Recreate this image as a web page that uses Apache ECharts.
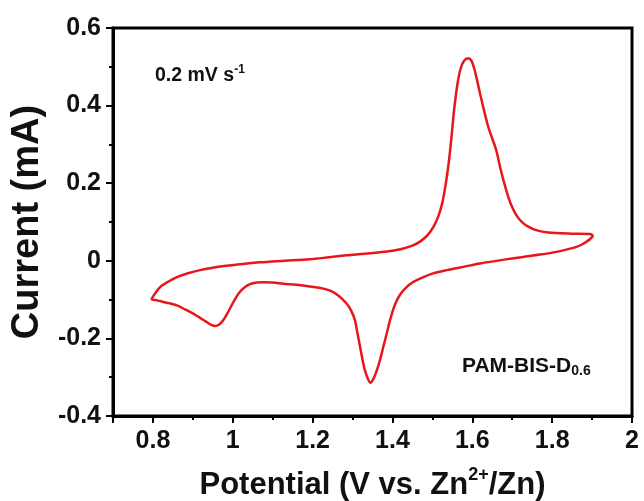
<!DOCTYPE html>
<html>
<head>
<meta charset="utf-8">
<script src="https://cdn.jsdelivr.net/npm/echarts@6/dist/echarts.min.js"></script>
<style>
  html, body { margin: 0; padding: 0; background: #ffffff; }
  #chart { width: 644px; height: 501px; }
</style>
</head>
<body>
<div id="chart"></div>
<script>
// Cyclic voltammogram, PAM-BIS-D0.6 at 0.2 mV/s.
// Scan starts at the upper vertex (1.9 V), runs cathodically to 0.8 V, then back.
const cathodicPotential = [1.903, 1.895, 1.886, 1.875, 1.861, 1.840, 1.811, 1.770, 1.728, 1.680,
  1.619, 1.580, 1.536, 1.500, 1.469, 1.450, 1.436, 1.422, 1.411, 1.402,
  1.394, 1.385, 1.377, 1.369, 1.361, 1.353, 1.345, 1.338, 1.331, 1.325,
  1.319, 1.312, 1.306, 1.296, 1.285, 1.265, 1.244, 1.220, 1.193, 1.160,
  1.127, 1.100, 1.077, 1.060, 1.043, 1.030, 1.018, 1.005, 0.993, 0.984,
  0.976, 0.966, 0.956, 0.946, 0.935, 0.918, 0.901, 0.880, 0.860, 0.840,
  0.826, 0.810, 0.797];
const cathodicCurrent = [0.064, 0.056, 0.049, 0.042, 0.036, 0.030, 0.023, 0.016, 0.010, 0.003,
  -0.007, -0.015, -0.024, -0.033, -0.046, -0.056, -0.067, -0.083, -0.102, -0.125,
  -0.153, -0.190, -0.222, -0.255, -0.282, -0.303, -0.314, -0.303, -0.282, -0.255,
  -0.222, -0.185, -0.153, -0.127, -0.110, -0.090, -0.077, -0.070, -0.066, -0.062,
  -0.059, -0.056, -0.055, -0.056, -0.060, -0.068, -0.080, -0.100, -0.123, -0.140,
  -0.153, -0.164, -0.168, -0.165, -0.158, -0.147, -0.136, -0.125, -0.115, -0.109,
  -0.106, -0.102, -0.099];
const anodicPotential = [0.805, 0.818, 0.838, 0.860, 0.888, 0.918, 0.950, 0.985, 1.025, 1.068,
  1.130, 1.193, 1.240, 1.285, 1.330, 1.369, 1.400, 1.425, 1.450, 1.470,
  1.488, 1.503, 1.515, 1.525, 1.533, 1.540, 1.547, 1.554, 1.562, 1.570,
  1.579, 1.590, 1.598, 1.605, 1.612, 1.620, 1.630, 1.640, 1.650, 1.660,
  1.670, 1.680, 1.690, 1.700, 1.712, 1.725, 1.740, 1.760, 1.790, 1.850,
  1.895, 1.903];
const anodicCurrent = [-0.085, -0.068, -0.054, -0.042, -0.032, -0.024, -0.018, -0.013, -0.008, -0.004,
  0.000, 0.004, 0.009, 0.014, 0.018, 0.022, 0.026, 0.031, 0.039, 0.050,
  0.066, 0.088, 0.115, 0.150, 0.195, 0.245, 0.310, 0.385, 0.450, 0.493,
  0.515, 0.522, 0.515, 0.495, 0.465, 0.428, 0.385, 0.345, 0.315, 0.285,
  0.240, 0.200, 0.165, 0.138, 0.115, 0.099, 0.088, 0.079, 0.073, 0.070,
  0.069, 0.064];

const xTickLabels = ['0.8', '1', '1.2', '1.4', '1.6', '1.8', '2'];
const yTickLabels = ['-0.4', '-0.2', '0', '0.2', '0.4', '0.6'];

const FONT = '"Liberation Sans", Arial, sans-serif';

const loop = [];
cathodicPotential.forEach((v, i) => loop.push([v, cathodicCurrent[i]]));
anodicPotential.forEach((v, i) => loop.push([v, anodicCurrent[i]]));

const fmt = (labels) => (v) => {
  const s = String(Math.round(v * 1000) / 1000);
  return labels.indexOf(s) >= 0 ? s : '';
};

const chart = echarts.init(document.getElementById('chart'), null, { renderer: 'canvas' });
chart.setOption({
  animation: false,
  backgroundColor: '#ffffff',
  grid: {
    left: 113, right: 12, top: 28, bottom: 85,
    containLabel: false, outerBoundsMode: 'none',
    show: true, borderColor: '#000', borderWidth: 3, backgroundColor: 'transparent'
  },
  xAxis: {
    type: 'value', min: 0.7, max: 2.0, splitNumber: 6,
    name: 'Potential (V vs. Zn{sup|2+}/Zn)',
    nameLocation: 'middle', nameGap: 50,
    nameTextStyle: {
      fontFamily: FONT, fontWeight: 'bold', fontSize: 31, color: '#111', lineHeight: 38,
      rich: { sup: { fontFamily: FONT, fontWeight: 'bold', fontSize: 18, lineHeight: 18, verticalAlign: 'top', color: '#111' } }
    },
    axisLine: { onZero: false, lineStyle: { color: '#000', width: 3 } },
    axisTick: { inside: false, length: 7, lineStyle: { color: '#000', width: 2 } },
    minorTick: { show: true, splitNumber: 2, length: 4, lineStyle: { color: '#000', width: 2 } },
    axisLabel: { fontFamily: FONT, fontWeight: 'bold', fontSize: 25, color: '#111', margin: 13, formatter: fmt(xTickLabels), showMinLabel: false },
    splitLine: { show: false }
  },
  yAxis: {
    type: 'value', min: -0.4, max: 0.6, interval: 0.2,
    name: 'Current (mA)',
    nameLocation: 'middle', nameGap: 66,
    nameTextStyle: { fontFamily: FONT, fontWeight: 'bold', fontSize: 38, color: '#111' },
    axisLine: { onZero: false, lineStyle: { color: '#000', width: 3 } },
    axisTick: { inside: false, length: 7, lineStyle: { color: '#000', width: 2 } },
    minorTick: { show: true, splitNumber: 2, length: 4, lineStyle: { color: '#000', width: 2 } },
    axisLabel: { fontFamily: FONT, fontWeight: 'bold', fontSize: 25, color: '#111', margin: 12, formatter: fmt(yTickLabels) },
    splitLine: { show: false }
  },
  graphic: [
    {
      type: 'text', left: 155, top: 64,
      style: {
        text: '{m|0.2 mV s}{sup|-1}',
        rich: {
          m: { fontFamily: FONT, fontWeight: 'bold', fontSize: 19.5, lineHeight: 24, fill: '#111' },
          sup: { fontFamily: FONT, fontWeight: 'bold', fontSize: 12, lineHeight: 13, verticalAlign: 'top', fill: '#111' }
        }
      }
    },
    {
      type: 'text', left: 462, top: 356,
      style: {
        text: '{m|PAM-BIS-D}{sub|0.6}',
        rich: {
          m: { fontFamily: FONT, fontWeight: 'bold', fontSize: 21, lineHeight: 24, fill: '#111' },
          sub: { fontFamily: FONT, fontWeight: 'bold', fontSize: 14, lineHeight: 13, verticalAlign: 'bottom', fill: '#111' }
        }
      }
    }
  ],
  series: [{
    type: 'line',
    data: loop,
    showSymbol: false,
    smooth: 0.3,
    lineStyle: { color: '#e8161b', width: 2.5 },
    z: 3
  }]
});
</script>
</body>
</html>
